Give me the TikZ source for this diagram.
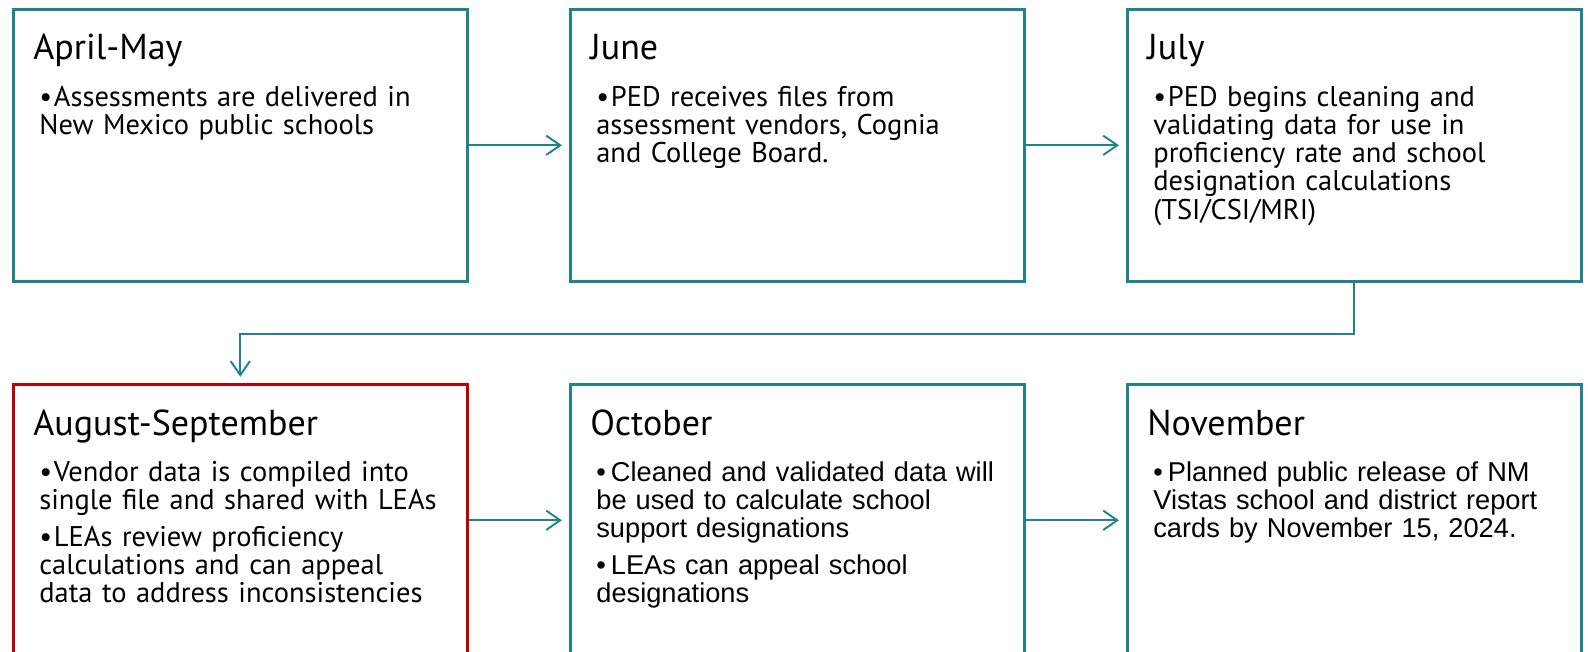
\documentclass[tikz,border=0pt]{standalone}
\usepackage{fontspec}
\setmainfont{PT Sans}
\newfontfamily\arialfont{Liberation Sans}
\usetikzlibrary{arrows.meta, positioning}
\definecolor{stepTeal}{HTML}{21838A}
\definecolor{stepRed}{HTML}{C00000}

% bullet with a small hanging indent for the wrapped lines
\newcommand{\bpt}[1]{\par\hangindent=3.5pt\hangafter=1\noindent\rule{0pt}{13pt}\makebox[8.3pt][l]{\textbullet}#1}

\begin{document}
\begin{tikzpicture}[
    x=0.02cm, y=-0.02cm,
    stepbox/.style={draw=stepTeal, line width=1.5pt, anchor=north west, inner sep=0pt,
        minimum width=9.08cm, minimum height=5.44cm},
    title/.style={anchor=base west, inner sep=0pt, font=\fontsize{20.5}{24}\selectfont},
    body/.style={anchor=north west, inner sep=0pt, text width=8.45cm, align=left,
        font=\fontsize{16.2}{16}\selectfont, execute at begin node={\setlength{\parskip}{3.5pt}}},
    arrow/.style={-{Straight Barb[length=8pt, width=11pt]}, line width=1.1pt, draw=stepTeal},
]
    \useasboundingbox (0,0) rectangle (1588,652);
    \clip (0,0) rectangle (1588,652);

    % Top row
    \node[stepbox] (b1) at (12,8) {};
    \node[title] (t1) at ([shift={(21,52)}]b1.north west) {April-May};
    \node[body] (d1) at ([shift={(27,64)}]b1.north west) {%
        \bpt{Assessments are delivered in\\New Mexico public schools}};

    \node[stepbox] (b2) at (569,8) {};
    \node[title] (t2) at ([shift={(21,52)}]b2.north west) {June};
    \node[body] (d2) at ([shift={(27,64)}]b2.north west) {%
        \bpt{PED receives files from\\assessment vendors, Cognia\\and College Board.}};

    \node[stepbox] (b3) at (1126,8) {};
    \node[title] (t3) at ([shift={(21,52)}]b3.north west) {July};
    \node[body] (d3) at ([shift={(27,64)}]b3.north west) {%
        \bpt{PED begins cleaning and\\validating data for use in\\proficiency rate and school\\designation calculations\\(TSI/CSI/MRI)}};

    % Bottom row
    \node[stepbox, draw=stepRed] (b4) at (12,383) {};
    \node[title] (t4) at ([shift={(21,52)}]b4.north west) {August-September};
    \node[body] (d4) at ([shift={(27,64)}]b4.north west) {%
        \bpt{Vendor data is compiled into\\single file and shared with LEAs}
        \bpt{LEAs review proficiency\\calculations and can appeal\\data to address inconsistencies}};

    \node[stepbox] (b5) at (569,383) {};
    \node[title] (t5) at ([shift={(21,52)}]b5.north west) {October};
    \node[body, font=\arialfont\fontsize{15.5}{16}\selectfont] (d5) at ([shift={(27,64)}]b5.north west) {%
        \bpt{Cleaned and validated data will\\be used to calculate school\\support designations}
        \bpt{LEAs can appeal school\\designations}};

    \node[stepbox] (b6) at (1126,383) {};
    \node[title] (t6) at ([shift={(21,52)}]b6.north west) {November};
    \node[body, font=\arialfont\fontsize{15.5}{16}\selectfont] (d6) at ([shift={(27,64)}]b6.north west) {%
        \bpt{Planned public release of NM\\Vistas school and district report\\cards by November 15, 2024.}};

    % Arrows
    \draw[arrow, shorten >=4pt] (b1) -- (b2);
    \draw[arrow, shorten >=4pt] (b2) -- (b3);
    \draw[arrow, shorten >=3.5pt] (b3.south) -- ++(0,51) -| (b4.north);
    \draw[arrow, shorten >=4pt] (b4) -- (b5);
    \draw[arrow, shorten >=4pt] (b5) -- (b6);
\end{tikzpicture}
\end{document}
